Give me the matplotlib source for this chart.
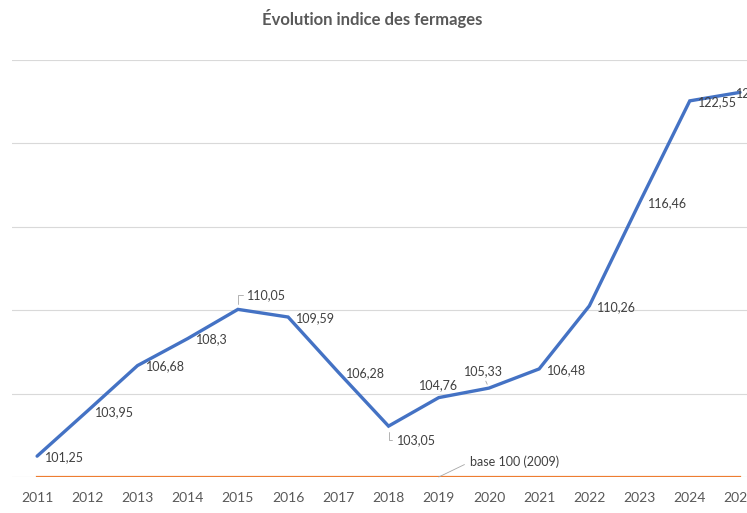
# Évolution indice des fermages (base 100 en 2009)

import matplotlib
matplotlib.use("Agg")
import matplotlib.pyplot as plt

# Daten
annees = [2011, 2012, 2013, 2014, 2015, 2016, 2017, 2018,
          2019, 2020, 2021, 2022, 2023, 2024, 2025]
indice = [101.25, 103.95, 106.68, 108.30, 110.05, 109.59, 106.28, 103.05,
          104.76, 105.33, 106.48, 110.26, 116.46, 122.55, 123.06]
etiquettes = ["101,25", "103,95", "106,68", "108,3", "110,05", "109,59", "106,28",
              "103,05", "104,76", "105,33", "106,48", "110,26", "116,46", "122,55",
              "123,06"]
base = [100] * len(annees)
base_label = "base 100 (2009)"
titre = "Évolution indice des fermages"

# Position der Datenbeschriftungen (Pixel-Versatz, Ausrichtung, Führungslinie)
positionen = {
    2015: ((9, 14), "left", True),
    2018: ((8, -14), "left", True),
    2019: ((0, 12), "center", False),
    2020: ((-5, 17), "center", True),
    2025: ((-4, -1), "left", False),
}

plt.rcParams["font.family"] = ["Lato", "DejaVu Sans"]

fig = plt.figure(figsize=(7.47, 5.13), dpi=100)
ax = fig.add_axes([12 / 747, 1 - 477 / 513, 1 - 12 / 747, (477 - 60) / 513])

ax.plot(annees, indice, color="#4472C4", linewidth=2.4, solid_capstyle="round",
        solid_joinstyle="miter", zorder=3)
ax.plot(annees, base, color="#ED7D31", linewidth=1.6, zorder=2)

ax.set_xlim(2010.5, 2025.14)
ax.set_ylim(100, 125)
ax.set_yticks([100, 105, 110, 115, 120, 125])
ax.set_yticklabels([])
ax.set_xticks(annees)
ax.set_xticklabels([str(a) for a in annees])
ax.tick_params(axis="x", length=0, pad=11, labelsize=10, labelcolor="#595959")
ax.tick_params(axis="y", length=0)
ax.grid(axis="y", color="#D9D9D9", linewidth=0.8)
ax.set_axisbelow(True)
for s in ax.spines.values():
    s.set_visible(False)

# Datenbeschriftungen
for a, v, txt in zip(annees, indice, etiquettes):
    offset, ha, leader = positionen.get(a, ((8, -1), "left", False))
    arrow = None
    if leader:
        if a == 2020:
            arrow = dict(arrowstyle="-", color="#A6A6A6", lw=0.6,
                         shrinkA=1, shrinkB=3, relpos=(0.5, 0))
        else:
            arrow = dict(arrowstyle="-", color="#A6A6A6", lw=0.6,
                         shrinkA=1, shrinkB=4, relpos=(0, 0.5),
                         connectionstyle="angle,angleA=0,angleB=90,rad=0")
    ax.annotate(txt, (a, v), xytext=offset, textcoords="offset pixels",
                ha=ha, va="center", fontsize=9, color="#404040",
                arrowprops=arrow, annotation_clip=False, zorder=4)

ax.annotate(base_label, (2019, 100), xytext=(31, 15), textcoords="offset pixels",
            ha="left", va="center", fontsize=9, color="#404040",
            arrowprops=dict(arrowstyle="-", color="#A6A6A6", lw=0.6,
                            shrinkA=2, shrinkB=0, relpos=(0, 0.5)))

fig.text(372 / 747, 1 - 18 / 513, titre, ha="center", va="center",
         fontsize=12, fontweight="bold", color="#595959")

fig.savefig("out.png", dpi=100)
